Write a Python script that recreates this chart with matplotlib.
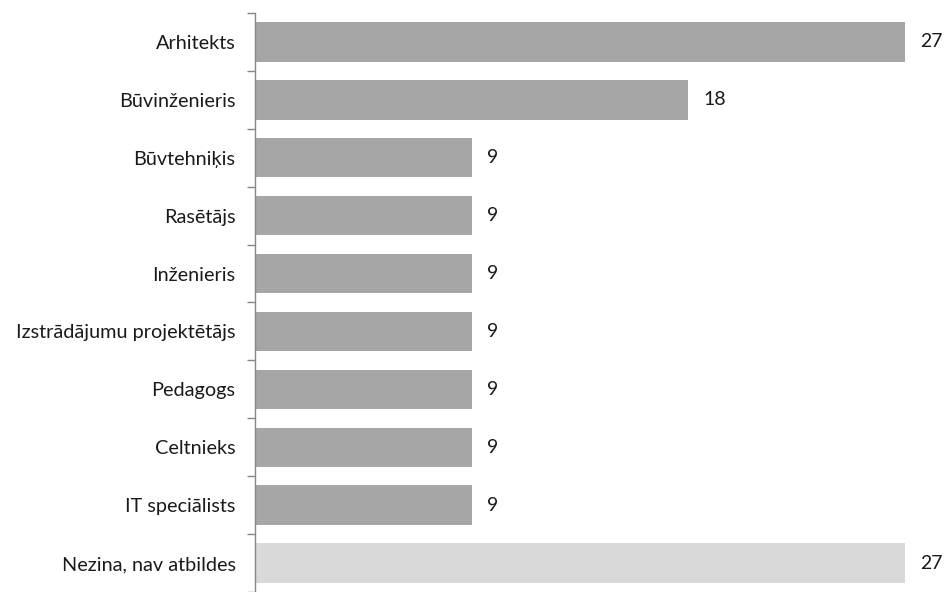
import matplotlib.pyplot as plt
import numpy as np

categories = ["Arhitekts", "Būvinženieris", "Būvtehniķis", "Rasētājs", "Inženieris",
              "Izstrādājumu projektētājs", "Pedagogs", "Celtnieks", "IT speciālists",
              "Nezina, nav atbildes"]
values = [27, 18, 9, 9, 9, 9, 9, 9, 9, 27]

plt.rcParams['font.family'] = ['Lato', 'DejaVu Sans']

fig = plt.figure(figsize=(9.5, 5.92), dpi=100)
ax = fig.add_axes([255 / 950, 0, 650 / 950, 1 - 13 / 592])

n = len(categories)
y = np.arange(n)
colors = ['#a6a6a6'] * (n - 1) + ['#d9d9d9']
ax.barh(y, values, height=0.68, color=colors, zorder=2)

for yi, v in zip(y, values):
    ax.text(v + 0.62, yi, str(v), va='center', ha='left', fontsize=14,
            color='#1a1a1a', clip_on=False)

ax.set_xlim(0, 27)
ax.set_ylim(n - 0.5, -0.5)
ax.set_yticks(y)
ax.set_yticklabels(categories, fontsize=14.3, color='#1a1a1a')
ax.set_yticks(np.arange(-0.5, n, 1), minor=True)
ax.tick_params(axis='y', which='major', length=0, pad=14)
ax.tick_params(axis='y', which='minor', length=6, color='#868686', width=1)
ax.set_xticks([])

for s in ['top', 'right', 'bottom']:
    ax.spines[s].set_visible(False)
ax.spines['left'].set_color('#868686')
ax.spines['left'].set_linewidth(1)

fig.savefig('out.png', dpi=100)
